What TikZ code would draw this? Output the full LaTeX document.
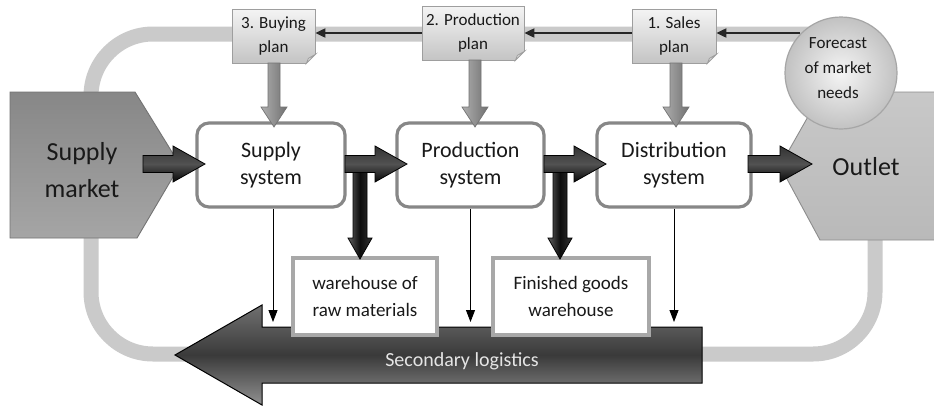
\documentclass[tikz,border=0pt]{standalone}
\usepackage{fontspec}
\setmainfont{Carlito}
\usetikzlibrary{arrows.meta,calc}
\definecolor{loopgray}{RGB}{202,202,202}
\definecolor{txt}{RGB}{25,25,25}
\definecolor{sysborder}{RGB}{135,135,135}
\definecolor{whborder}{RGB}{168,168,168}
\definecolor{smtop}{RGB}{135,135,135}
\definecolor{smbot}{RGB}{165,165,165}
\definecolor{outtop}{RGB}{200,200,200}
\definecolor{outbot}{RGB}{185,185,185}
\definecolor{logtop}{RGB}{112,112,112}
\definecolor{logmid}{RGB}{58,58,58}
\definecolor{logbot}{RGB}{145,145,145}
\definecolor{plantop}{RGB}{244,244,244}
\definecolor{planbot}{RGB}{196,196,196}
\definecolor{grayarrL}{RGB}{175,175,175}
\definecolor{grayarrR}{RGB}{112,112,112}
\newcommand\hblock[4]{%
  \path[#4] (#1,#3-8.5) -- (#2-32,#3-8.5) -- (#2-32,#3-18) -- (#2,#3) -- (#2-32,#3+18) -- (#2-32,#3+8.5) -- (#1,#3+8.5) -- cycle;}
\newcommand\vblock[7]{%
  \path[#7] (#1-#4,#2) -- (#1-#4,#3-#6) -- (#1-#5,#3-#6) -- (#1,#3) -- (#1+#5,#3-#6) -- (#1+#4,#3-#6) -- (#1+#4,#2) -- cycle;}
\tikzset{
  bigloop/.style={draw=loopgray, line width=15pt, rounded corners=62pt},
  sysbox/.style={draw=sysborder, line width=3.2pt, fill=white, rounded corners=12pt,
    minimum height=84pt, inner sep=0pt, align=center, text=txt,
    font=\fontsize{22}{27}\selectfont},
  whbox/.style={draw=whborder, line width=3.5pt, fill=white, minimum height=77pt,
    inner sep=0pt, align=center, text=txt, font=\fontsize{19}{27}\selectfont},
  planbox/.style={draw=black!38, line width=0.8pt, top color=plantop, bottom color=planbot,
    minimum width=83pt, minimum height=54pt, inner sep=0pt, align=center, text=txt,
    font=\fontsize{17}{24}\selectfont},
  planln/.style={draw=black!85, line width=2pt, -{Triangle[length=10pt,width=9pt]}},
  thinarr/.style={draw=black, line width=0.9pt, -{Triangle[length=12pt,width=9pt]}},
  darkh/.style={draw=black, line width=0.8pt, top color=black!80, bottom color=black!97, middle color=black!68},
  darkv/.style={draw=black, line width=0.8pt, left color=black!62, right color=black!80, middle color=black!95},
  grayarr/.style={draw=black!55, line width=0.7pt, left color=grayarrL, right color=grayarrR},
  bigtext/.style={text=txt, align=center, font=\fontsize{26}{37}\selectfont}
}
\begin{document}
\begin{tikzpicture}[x=1pt,y=-1pt]
\useasboundingbox (0,0) rectangle (934,405);
\fill[white] (0,0) rectangle (934,405);
% background loop
\draw[bigloop] (91,34) rectangle (875,354);
% supply market
\path[draw=black!55, line width=0.9pt, top color=smtop, bottom color=smbot]
  (10,92) -- (135,92) -- (180,165) -- (137,238) -- (10,238) -- cycle;
\node[bigtext] (supmk) at (82,170) {Supply\\market};
% outlet
\path[draw=black!45, line width=0.9pt, top color=outtop, bottom color=outbot]
  (936,92) -- (822,92) -- (780,166) -- (820,240) -- (936,240);
\node[bigtext] (outlet) at (866,167) {Outlet};
% secondary logistics
\path[draw=black, line width=1pt, top color=logtop, bottom color=logbot, middle color=logmid]
  (702,327) -- (262,327) -- (262,305) -- (175,355) -- (262,405) -- (262,383) -- (702,383) -- cycle;
\node[text=white!90!black, font=\fontsize{20}{24}\selectfont] (seclog) at (462,361) {Secondary logistics};
\coordinate (logtopc) at (0,322);
% warehouses
\node[whbox, minimum width=144pt] (wh1) at (365,296.5) {warehouse of\\raw materials};
\node[whbox, minimum width=156pt] (wh2) at (571,296.5) {Finished goods\\warehouse};
% systems
\node[sysbox, minimum width=148pt] (supsys) at (271,165) {Supply\\system};
\node[sysbox, minimum width=147pt] (prodsys) at (470.5,165) {Production\\system};
\node[sysbox, minimum width=154pt] (distsys) at (674,165) {Distribution\\system};
% thin arrows to secondary logistics
\draw[thinarr] (supsys.south) ++(2,0) coordinate (t1) -- (t1 |- logtopc);
\draw[thinarr] (prodsys.south) -- (prodsys.south |- logtopc);
\draw[thinarr] (distsys.south) -- (distsys.south |- logtopc);
% vertical dark arrows to warehouses
\vblock{360}{170}{259}{7}{12}{21}{darkv}
\vblock{560}{170}{259}{7}{12}{21}{darkv}
% horizontal dark arrows
\hblock{143}{205}{164}{darkh}
\hblock{345}{407}{164}{darkh}
\hblock{544}{606}{164}{darkh}
\hblock{748}{812}{164}{darkh}
% plan boxes
\node[planbox] (plan3) at (273.5,36) {3. Buying\\plan};
\node[planbox, minimum width=102pt] (plan2) at (473,33) {2. Production\\plan};
\node[planbox, minimum width=84pt] (plan1) at (674,36) {1. Sales\\plan};
\foreach \p in {plan3,plan2,plan1}{
  \fill[white] (\p.south east) ++(0.5,0.5) -- ++(0,-10) -- ++(-10,10) -- cycle;
  \draw[draw=black!38, line width=0.8pt, fill=black!12] (\p.south east) ++(0,-9) -- ++(-9,9) -- ++(2,-5) -- cycle;
}
% forecast circle
\node[circle, draw=black!35, line width=1.2pt, inner color=black!4, outer color=black!24,
  minimum size=112pt, inner sep=0pt] (fc) at (841,73) {};
\node[text=txt, align=center, font=\fontsize{17}{25}\selectfont] (fctext) at (838,68) {Forecast\\of market\\needs};
% plan lines
\coordinate (fcl) at (800,33);
\draw[planln] (fcl) -- (plan1.east |- fcl);
\draw[planln] (plan1.west |- fcl) -- (plan2.east |- fcl);
\draw[planln] (plan2.west |- fcl) -- (plan3.east |- fcl);
% gray arrows from plans to systems
\vblock{274}{63}{127}{6}{13}{20}{grayarr}
\vblock{475}{60}{127}{6}{13}{20}{grayarr}
\vblock{676}{63}{127}{6}{13}{20}{grayarr}
\end{tikzpicture}
\end{document}
